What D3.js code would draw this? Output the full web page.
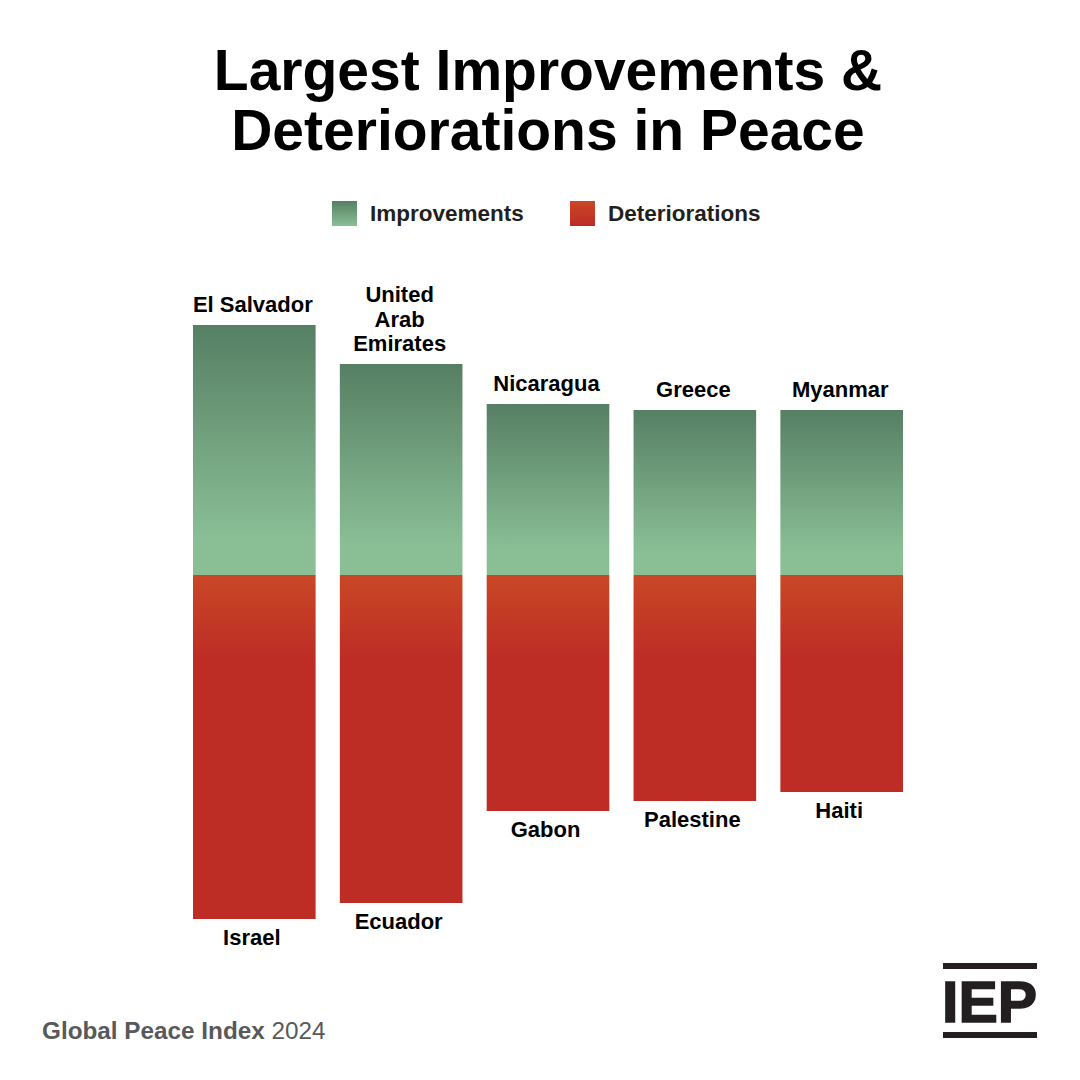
<!DOCTYPE html>
<html><head><meta charset="utf-8">
<script src="https://cdn.jsdelivr.net/npm/d3@7/dist/d3.min.js"></script>
<style>html,body{margin:0;padding:0;background:#fff}svg{display:block}</style>
</head><body>
<script>
const improvers = ["El Salvador", "United Arab Emirates", "Nicaragua", "Greece", "Myanmar"];
const improveValues = [0.250, 0.211, 0.171, 0.165, 0.165];
const deteriorators = ["Israel", "Ecuador", "Gabon", "Palestine", "Haiti"];
const deteriorValues = [0.344, 0.328, 0.236, 0.226, 0.217];
const improverLines = [["El Salvador"], ["United", "Arab", "Emirates"], ["Nicaragua"], ["Greece"], ["Myanmar"]];
const legendLabels = ["Improvements", "Deteriorations"];

const W = 1080, H = 1080;
const font = "'Liberation Sans', Arial, Helvetica, sans-serif";
const svg = d3.select("body").append("svg").attr("width", W).attr("height", H);
svg.append("rect").attr("width", W).attr("height", H).attr("fill", "#fff");

const defs = svg.append("defs");
const g1 = defs.append("linearGradient").attr("id", "gGreen").attr("x1", 0).attr("y1", 0).attr("x2", 0).attr("y2", 1);
g1.append("stop").attr("offset", 0).attr("stop-color", "#567f63");
g1.append("stop").attr("offset", 0.86).attr("stop-color", "#8abf96");
g1.append("stop").attr("offset", 1).attr("stop-color", "#8abf96");

const x = d3.scaleBand().domain(d3.range(5)).range([193, 903]).paddingInner(0.165).paddingOuter(0);
const y = d3.scaleLinear().domain([-d3.max(deteriorValues), d3.max(improveValues)]).range([919, 325]);
const base = y(0);

const g2 = defs.append("linearGradient").attr("id", "gRed").attr("gradientUnits", "userSpaceOnUse")
  .attr("x1", 0).attr("y1", base).attr("x2", 0).attr("y2", base + 85);
g2.append("stop").attr("offset", 0).attr("stop-color", "#c94726");
g2.append("stop").attr("offset", 1).attr("stop-color", "#bd2c25");

const lg = defs.append("linearGradient").attr("id", "lgGreen").attr("x1", 0).attr("y1", 0).attr("x2", 0).attr("y2", 1);
lg.append("stop").attr("offset", 0).attr("stop-color", "#567f63");
lg.append("stop").attr("offset", 1).attr("stop-color", "#8abf96");
const lr = defs.append("linearGradient").attr("id", "lgRed").attr("x1", 0).attr("y1", 0).attr("x2", 0).attr("y2", 1);
lr.append("stop").attr("offset", 0).attr("stop-color", "#c94726");
lr.append("stop").attr("offset", 1).attr("stop-color", "#bd2c25");

// Title
svg.append("text").attr("x", 548).attr("y", 90).attr("text-anchor", "middle")
  .attr("font-family", font).attr("font-weight", "bold").attr("font-size", 57).attr("fill", "#000")
  .text("Largest Improvements &");
svg.append("text").attr("x", 548).attr("y", 150).attr("text-anchor", "middle")
  .attr("font-family", font).attr("font-weight", "bold").attr("font-size", 57).attr("fill", "#000")
  .text("Deteriorations in Peace");

// Legend
const legX = [332, 570];
legendLabels.forEach((l, i) => {
  svg.append("rect").attr("x", legX[i]).attr("y", 201).attr("width", 25).attr("height", 25)
    .attr("fill", i === 0 ? "url(#lgGreen)" : "url(#lgRed)");
  svg.append("text").attr("x", legX[i] + 38).attr("y", 221)
    .attr("font-family", font).attr("font-weight", "bold").attr("font-size", 22.5).attr("fill", "#231f20")
    .text(l);
});

// Bars
const bars = svg.append("g");
bars.selectAll("rect.up").data(improveValues).join("rect").attr("class", "up")
  .attr("x", (d, i) => x(i)).attr("width", x.bandwidth())
  .attr("y", d => y(d)).attr("height", d => base - y(d))
  .attr("fill", "url(#gGreen)");
bars.selectAll("rect.down").data(deteriorValues).join("rect").attr("class", "down")
  .attr("x", (d, i) => x(i)).attr("width", x.bandwidth())
  .attr("y", base).attr("height", d => y(-d) - base)
  .attr("fill", "url(#gRed)");

// Labels above
improverLines.forEach((lines, i) => {
  const cx = x(i) + x.bandwidth() / 2 - 1.5;
  const bottomBase = y(improveValues[i]) - 13;
  lines.forEach((ln, j) => {
    svg.append("text").attr("x", cx).attr("y", bottomBase - (lines.length - 1 - j) * 24.5)
      .attr("text-anchor", "middle").attr("font-family", font).attr("font-weight", "bold")
      .attr("font-size", 22).attr("fill", "#000").text(ln);
  });
});
// Labels below
deteriorators.forEach((n, i) => {
  const cx = x(i) + x.bandwidth() / 2 - 2.5;
  svg.append("text").attr("x", cx).attr("y", y(-deteriorValues[i]) + 26)
    .attr("text-anchor", "middle").attr("font-family", font).attr("font-weight", "bold")
    .attr("font-size", 22).attr("fill", "#000").text(n);
});

// Footer
const ft = svg.append("text").attr("x", 42).attr("y", 1039)
  .attr("font-family", font).attr("font-size", 24.3).attr("fill", "#58595b");
ft.append("tspan").attr("font-weight", "bold").text("Global Peace Index ");
ft.append("tspan").text("2024");

// IEP logo
svg.append("rect").attr("x", 943).attr("y", 963).attr("width", 94).attr("height", 6).attr("fill", "#231f20");
svg.append("rect").attr("x", 943).attr("y", 1032).attr("width", 94).attr("height", 6).attr("fill", "#231f20");
svg.append("text").attr("x", 942).attr("y", 1022).attr("font-family", font).attr("font-weight", "bold")
  .attr("font-size", 57).attr("fill", "#231f20").attr("stroke", "#231f20").attr("stroke-width", 1.5)
  .attr("textLength", 95).attr("lengthAdjust", "spacingAndGlyphs")
  .text("IEP");
</script>
</body></html>
